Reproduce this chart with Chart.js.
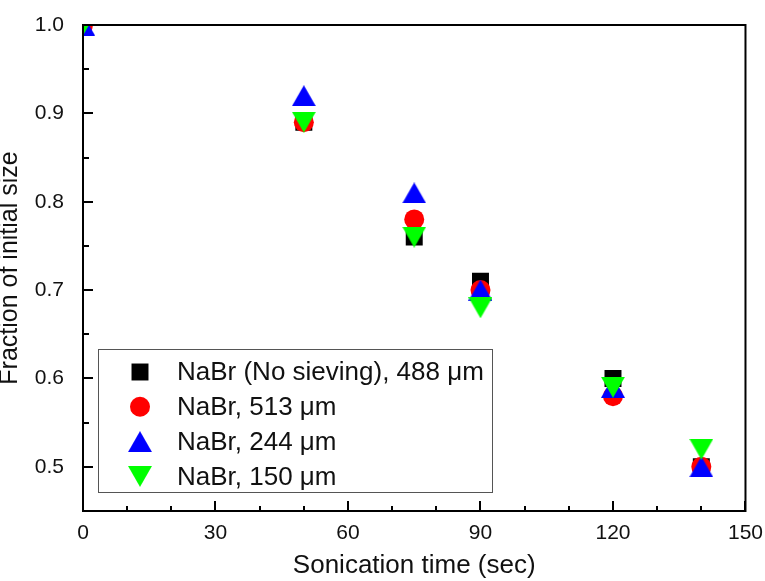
<!DOCTYPE html>
<html>
<head>
<meta charset="utf-8">
<script src="https://cdn.jsdelivr.net/npm/chart.js@4/dist/chart.umd.min.js"></script>
<style>
  html, body { margin: 0; padding: 0; background: #ffffff; }
  #wrap { width: 765px; height: 581px; }
</style>
</head>
<body>
<div id="wrap"><canvas id="c" width="765" height="581"></canvas></div>
<script>
// ---- data ----
const seriesLabels = ["NaBr (No sieving), 488 \u03BCm", "NaBr, 513 \u03BCm", "NaBr, 244 \u03BCm", "NaBr, 150 \u03BCm"];
const timeNoSieve = [0, 50, 75, 90, 120, 140];
const fracNoSieve = [1.0, 0.89, 0.76, 0.71, 0.60, 0.50];
const time513 = [0, 50, 75, 90, 120, 140];
const frac513 = [1.0, 0.89, 0.78, 0.70, 0.58, 0.50];
const time244 = [0, 50, 75, 90, 120, 140];
const frac244 = [1.0, 0.92, 0.81, 0.70, 0.59, 0.50];
const time150 = [0, 50, 75, 90, 120, 140];
const frac150 = [1.0, 0.89, 0.76, 0.68, 0.59, 0.52];
const xTickValues = [0, 30, 60, 90, 120, 150];
const xMinorTicks = [10, 20, 40, 50, 70, 80, 100, 110, 130, 140];
const yTickValues = [0.5, 0.6, 0.7, 0.8, 0.9, 1.0];
const yMinorTicks = [0.55, 0.65, 0.75, 0.85, 0.95];

const FONT = "'Liberation Sans', Arial, Helvetica, sans-serif";

function toPoints(xs, ys) { return xs.map((x, i) => ({ x: x, y: ys[i] })); }

function makeTriangle(color, down) {
  const w = 24, h = 21;
  const cv = document.createElement('canvas');
  cv.width = w; cv.height = h;
  const g = cv.getContext('2d');
  g.fillStyle = color;
  g.beginPath();
  if (down) { g.moveTo(0, 0); g.lineTo(w, 0); g.lineTo(w / 2, h); }
  else { g.moveTo(w / 2, 0); g.lineTo(w, h); g.lineTo(0, h); }
  g.closePath();
  g.fill();
  return cv;
}
const triUp = makeTriangle('#0000ff', false);
const triDown = makeTriangle('#00ff00', true);

const datasets = [
  { label: seriesLabels[0], data: toPoints(timeNoSieve, fracNoSieve), pointStyle: 'rect', pointRadius: 12,
    backgroundColor: '#000000', borderColor: '#000000', borderWidth: 0, order: 4 },
  { label: seriesLabels[1], data: toPoints(time513, frac513), pointStyle: 'circle', pointRadius: 10,
    backgroundColor: '#ff0000', borderColor: '#ff0000', borderWidth: 0, order: 3 },
  { label: seriesLabels[2], data: toPoints(time244, frac244), pointStyle: triUp, pointRadius: 12,
    backgroundColor: '#0000ff', borderColor: '#0000ff', borderWidth: 0, order: 2 },
  { label: seriesLabels[3], data: toPoints(time150, frac150), pointStyle: triDown, pointRadius: 12,
    backgroundColor: '#00ff00', borderColor: '#00ff00', borderWidth: 0, order: 1 }
];

const frameTicksPlugin = {
  id: 'frameTicks',
  afterDatasetsDraw(chart) {
    const { ctx, chartArea: a, scales: { x, y } } = chart;
    ctx.save();
    ctx.strokeStyle = '#000000';
    ctx.lineWidth = 2;
    ctx.strokeRect(a.left, a.top, a.right - a.left, a.bottom - a.top);
    ctx.beginPath();
    xTickValues.forEach(v => { const px = Math.round(x.getPixelForValue(v)); ctx.moveTo(px, a.bottom); ctx.lineTo(px, a.bottom - 10); });
    xMinorTicks.forEach(v => { const px = Math.round(x.getPixelForValue(v)); ctx.moveTo(px, a.bottom); ctx.lineTo(px, a.bottom - 5); });
    yTickValues.forEach(v => { const py = Math.round(y.getPixelForValue(v)); ctx.moveTo(a.left, py); ctx.lineTo(a.left + 10, py); });
    yMinorTicks.forEach(v => { const py = Math.round(y.getPixelForValue(v)); ctx.moveTo(a.left, py); ctx.lineTo(a.left + 6, py); });
    ctx.stroke();
    ctx.restore();
  }
};

const boxLegendPlugin = {
  id: 'boxLegend',
  afterDraw(chart) {
    const { ctx, chartArea: a } = chart;
    const bx = a.left + 15, by = a.top + 324, bw = 394, bh = 143;
    ctx.save();
    ctx.fillStyle = '#ffffff';
    ctx.fillRect(bx, by, bw, bh);
    ctx.strokeStyle = '#555555';
    ctx.lineWidth = 1;
    ctx.strokeRect(bx + 0.5, by + 0.5, bw, bh);
    ctx.font = '26px ' + FONT;
    ctx.textAlign = 'left';
    ctx.textBaseline = 'middle';
    chart.data.datasets.forEach((ds, i) => {
      const cy = by + 23 + i * 34.8;
      const cx = bx + 42;
      const st = ds.pointStyle;
      if (typeof st === 'string') {
        ctx.fillStyle = ds.backgroundColor;
        ctx.beginPath();
        if (st === 'rect') { const s = ds.pointRadius * Math.SQRT1_2; ctx.rect(cx - s, cy - s, 2 * s, 2 * s); }
        else { ctx.arc(cx, cy, ds.pointRadius, 0, Math.PI * 2); }
        ctx.fill();
      } else {
        ctx.drawImage(st, cx - st.width / 2, cy - st.height / 2);
      }
      ctx.fillStyle = '#111111';
      ctx.fillText(ds.label, bx + 79, cy + 1);
    });
    ctx.restore();
  }
};

new Chart(document.getElementById('c'), {
  type: 'scatter',
  data: { datasets: datasets },
  options: {
    responsive: false,
    animation: false,
    devicePixelRatio: 1,
    layout: { padding: { top: 25, right: 17, left: 0, bottom: 0 } },
    plugins: { legend: { display: false }, tooltip: { enabled: false } },
    scales: {
      x: {
        type: 'linear', position: 'bottom', min: 0, max: 150,
        afterBuildTicks: s => { s.ticks = xTickValues.map(v => ({ value: v })); },
        afterFit: s => { s.height = 70; },
        grid: { display: false }, border: { display: false },
        ticks: { color: '#111111', font: { family: FONT, size: 21 }, padding: 2, maxRotation: 0, autoSkip: false },
        title: { display: true, text: 'Sonication time (sec)', color: '#111111', font: { family: FONT, size: 26 }, padding: { top: 0, bottom: 0 } }
      },
      y: {
        type: 'linear', position: 'left', min: 0.45, max: 1.0,
        afterBuildTicks: s => { s.ticks = yTickValues.map(v => ({ value: v })); },
        afterFit: s => { s.width = 83; },
        grid: { display: false }, border: { display: false },
        ticks: { color: '#111111', font: { family: FONT, size: 21 }, padding: 11, autoSkip: false, callback: v => Number(v).toFixed(1) },
        title: { display: true, text: 'Fraction of initial size', color: '#111111', font: { family: FONT, size: 25 }, padding: { top: -5, bottom: 0 } }
      }
    }
  },
  plugins: [frameTicksPlugin, boxLegendPlugin]
});
</script>
</body>
</html>
